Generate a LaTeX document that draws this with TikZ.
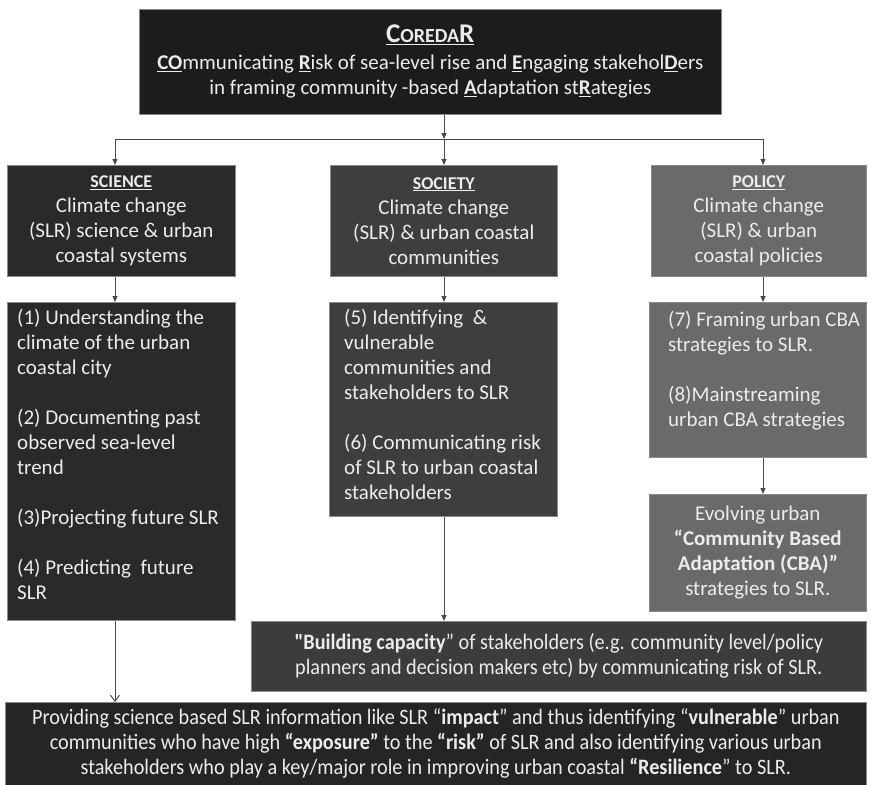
\documentclass[tikz,border=0pt]{standalone}
\usepackage{fontspec}
\setmainfont{Carlito}
\newfontfamily\condfont[FakeStretch=0.92]{Carlito}
\usetikzlibrary{arrows.meta}

\definecolor{topfill}{HTML}{1C1C1C}
\definecolor{scifill}{HTML}{2A2A2A}
\definecolor{socfill}{HTML}{3E3E3E}
\definecolor{polfill}{HTML}{6A6A6A}
\definecolor{bldfill}{HTML}{3C3C3C}
\definecolor{botfill}{HTML}{252525}
\definecolor{txt}{HTML}{ECECEC}
\definecolor{edge}{HTML}{8A8A8A}
\definecolor{linec}{HTML}{4A4A4A}

\newcommand{\ubf}[1]{\underline{\textbf{#1}}}

\begin{document}
\begin{tikzpicture}[x=1pt,y=-1pt,
  box/.style={draw=edge, line width=0.6pt, text=txt, inner sep=0pt,
    anchor=north west, align=center,
    font=\fontsize{21}{25}\selectfont},
  listtext/.style={text=txt, inner sep=0pt, anchor=north west, align=left,
    font=\fontsize{21}{25}\selectfont},
  wide/.style={font=\condfont\fontsize{22}{25}\selectfont},
  ln/.style={draw=linec, line width=1pt},
  arr/.style={ln, -{Triangle[length=6pt,width=5pt]}},
  openarr/.style={ln, -{Straight Barb[length=6pt,width=9pt]}}
]
\useasboundingbox (0,0) rectangle (871,785);

% title box
\node[box, fill=topfill, minimum width=582pt, minimum height=105pt] (top) at (139,9)
  {{\bfseries\underline{{\fontsize{27}{27}\selectfont C}{\fontsize{20}{27}\selectfont OREDA}{\fontsize{27}{27}\selectfont R}}}\\[2pt]
   \ubf{CO}mmunicating \ubf{R}isk of sea-level rise and \ubf{E}ngaging stakehol\ubf{D}ers\\
   in framing community -based \ubf{A}daptation st\ubf{R}ategies};

% three pillars
\node[box, fill=scifill, minimum width=228pt, minimum height=111pt] (sci) at (7,165)
  {{\fontsize{18}{25}\selectfont\bfseries\underline{SCIENCE}}\\Climate change\\(SLR) science \& urban\\coastal systems};
\node[box, fill=socfill, minimum width=227pt, minimum height=111pt] (soc) at (330,165)
  {{\fontsize{18}{25}\selectfont\bfseries\underline{SOCIETY}}\\Climate change\\(SLR) \& urban coastal\\communities};
\node[box, fill=polfill, minimum width=215pt, minimum height=111pt] (pol) at (651,165)
  {{\fontsize{18}{25}\selectfont\bfseries\underline{POLICY}}\\Climate change\\(SLR) \& urban\\coastal policies};

% activity lists
\node[box, fill=scifill, minimum width=228pt, minimum height=318pt] (scil) at (7,302) {};
\node[listtext] (scit) at ([xshift=10pt,yshift=-7pt]scil.north west)
  {(1) Understanding the\\climate of the urban\\coastal city\\[25pt]
   (2) Documenting past\\observed sea-level\\trend\\[25pt]
   (3)Projecting future SLR\\[25pt]
   (4) Predicting\ \ future\\SLR};

\node[box, fill=socfill, minimum width=228pt, minimum height=214pt] (socl) at (329,302) {};
\node[listtext] (soct) at ([xshift=15pt,yshift=-7pt]socl.north west)
  {(5) Identifying\ \ \&\\vulnerable\\communities and\\stakeholders to SLR\\[25pt]
   (6) Communicating risk\\of SLR to urban coastal\\stakeholders};

\node[box, fill=polfill, minimum width=217pt, minimum height=155pt] (poll) at (649,302) {};
\node[listtext] (polt) at ([xshift=19pt,yshift=-9pt]poll.north west)
  {(7) Framing urban CBA\\strategies to SLR.\\[25pt]
   (8)Mainstreaming\\urban CBA strategies};

\node[box, fill=polfill, minimum width=217pt, minimum height=117pt] (evo) at (649,494)
  {Evolving urban\\\textbf{“Community Based}\\\textbf{Adaptation (CBA)”}\\strategies to SLR.};

% outcome boxes
\node[box, wide, fill=bldfill, minimum width=615pt, minimum height=70pt] (bld) at (251,621)
  {\textbf{"Building capacity}” of stakeholders (e.g. community level/policy\\
   planners and decision makers etc) by communicating risk of SLR.};

\node[box, wide, fill=botfill, minimum width=861pt, minimum height=83pt] (bot) at (5,702)
  {Providing science based SLR information like SLR “\textbf{impact}” and thus identifying “\textbf{vulnerable}” urban\\
   communities who have high \textbf{“exposure”} to the \textbf{“risk”} of SLR and also identifying various urban\\
   stakeholders who play a key/major role in improving urban coastal \textbf{“Resilience}” to SLR.};

% junction points of the branching connector
\coordinate (ja) at (115,139);
\coordinate (jb) at (444,139);
\coordinate (jc) at (763,139);

\draw[arr] (jb |- top.south) -- (jb);
\draw[ln] (ja) -- (jc);
\draw[arr] (ja) -- (ja |- sci.north);
\draw[arr] (jb) -- (jb |- soc.north);
\draw[arr] (jc) -- (jc |- pol.north);

\draw[arr] (ja |- sci.south) -- (ja |- scil.north);
\draw[arr] (jb |- soc.south) -- (jb |- socl.north);
\draw[arr] (jc |- pol.south) -- (jc |- poll.north);
\draw[arr] (jc |- poll.south) -- (jc |- evo.north);
\draw[arr] (jb |- socl.south) -- (jb |- bld.north);
\draw[openarr] (ja |- scil.south) -- (ja |- bot.north);
\end{tikzpicture}
\end{document}
